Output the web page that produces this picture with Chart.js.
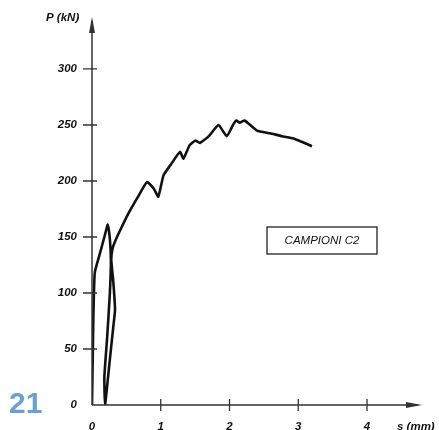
<!DOCTYPE html>
<html>
<head>
<meta charset="utf-8">
<script src="https://cdn.jsdelivr.net/npm/chart.js@4"></script>
<style>
  html, body { margin: 0; padding: 0; background: #fff; }
  #wrap { position: relative; width: 439px; height: 430px; }
</style>
</head>
<body>
<div id="wrap"><canvas id="chart" width="439" height="430"></canvas></div>
<script>
// displacement s (mm) and load P (kN)
const sValues = [0, 0.01, 0.02, 0.04, 0.1, 0.18, 0.23,
  0.26, 0.275, 0.26, 0.22, 0.18, 0.19,
  0.25, 0.31, 0.335, 0.31, 0.28, 0.3, 0.335, 0.41, 0.53, 0.67, 0.8, 0.9, 0.965, 1.04, 1.15, 1.28, 1.33,
  1.42, 1.5, 1.57, 1.7, 1.84, 1.96, 2.06, 2.1, 2.15, 2.22, 2.4, 2.59, 2.76, 2.93, 3.05, 3.2];
const pValues = [0, 40, 80, 118, 132, 150, 161,
  148, 129, 100, 60, 25, 0,
  35, 70, 85, 110, 130, 140, 146, 156, 171, 186, 199, 193, 186, 205, 215, 226, 220,
  232, 236, 234, 240, 250, 240, 251, 254, 252, 254, 245, 242.6, 240, 238, 235, 231];
const xTicks = [0, 1, 2, 3, 4];
const yTicks = [0, 50, 100, 150, 200, 250, 300];
const xTitle = 's (mm)';
const yTitle = 'P (kN)';
const boxLabel = 'CAMPIONI C2';
const pageNo = '21';

const ink = '#111';
const labelFont = 'italic bold 11.5px "Liberation Sans", Arial, sans-serif';

const axesPlugin = {
  id: 'axes',
  afterDraw(chart) {
    const ctx = chart.ctx;
    const xs = chart.scales.x, ys = chart.scales.y;
    const x0 = xs.getPixelForValue(0), y0 = ys.getPixelForValue(0);
    const xEnd = xs.right, yEnd = ys.top;
    ctx.save();
    ctx.strokeStyle = '#333';
    ctx.fillStyle = '#333';
    ctx.lineWidth = 1.5;
    // axis lines
    ctx.beginPath();
    ctx.moveTo(x0, y0); ctx.lineTo(xEnd - 4, y0);
    ctx.moveTo(x0, y0); ctx.lineTo(x0, yEnd + 4);
    ctx.stroke();
    // arrow heads
    ctx.beginPath();
    ctx.moveTo(xEnd, y0); ctx.lineTo(xEnd - 16, y0 - 3); ctx.lineTo(xEnd - 16, y0 + 3); ctx.closePath();
    ctx.fill();
    ctx.beginPath();
    ctx.moveTo(x0, yEnd); ctx.lineTo(x0 - 3, yEnd + 16); ctx.lineTo(x0 + 3, yEnd + 16); ctx.closePath();
    ctx.fill();
    // tick marks crossing the axes
    ctx.lineWidth = 1.3;
    ctx.beginPath();
    xTicks.forEach(v => {
      if (v === 0) return;
      const px = xs.getPixelForValue(v);
      ctx.moveTo(px, y0 - 6); ctx.lineTo(px, y0 + 6);
    });
    yTicks.forEach(v => {
      if (v === 0) return;
      const py = ys.getPixelForValue(v);
      ctx.moveTo(x0 - 9, py); ctx.lineTo(x0 + 5, py);
    });
    ctx.stroke();
    // tick labels
    ctx.fillStyle = ink;
    ctx.font = labelFont;
    ctx.textAlign = 'center';
    ctx.textBaseline = 'middle';
    xTicks.forEach(v => ctx.fillText(String(v), xs.getPixelForValue(v), y0 + 22));
    ctx.textAlign = 'right';
    yTicks.forEach(v => ctx.fillText(String(v), x0 - 15, ys.getPixelForValue(v)));
    // axis titles
    ctx.textAlign = 'left';
    ctx.fillText(xTitle, 397, y0 + 22);
    ctx.fillText(yTitle, 46, 18);
    // legend box
    ctx.lineWidth = 1.3;
    ctx.strokeStyle = '#222';
    ctx.strokeRect(267, 227, 110, 27);
    ctx.font = 'italic 11.5px "Liberation Sans", Arial, sans-serif';
    ctx.textAlign = 'center';
    ctx.fillText(boxLabel, 322, 241);
    // page number
    ctx.fillStyle = '#6b9fd8';
    ctx.font = 'bold 30px "Liberation Sans", Arial, sans-serif';
    ctx.textAlign = 'left';
    ctx.fillText(pageNo, 9, 405);
    ctx.restore();
  }
};

new Chart(document.getElementById('chart'), {
  type: 'scatter',
  data: {
    datasets: [{
      data: sValues.map((s, i) => ({ x: s, y: pValues[i] })),
      showLine: true,
      borderColor: ink,
      borderWidth: 2.6,
      pointRadius: 0,
      tension: 0.15,
      fill: false
    }]
  },
  options: {
    responsive: false,
    animation: false,
    layout: { padding: { left: 92, right: 17, top: 17, bottom: 25 } },
    plugins: { legend: { display: false }, tooltip: { enabled: false } },
    scales: {
      x: { type: 'linear', display: false, min: 0, max: 4.8 },
      y: { type: 'linear', display: false, min: 0, max: 346.4 }
    }
  },
  plugins: [axesPlugin]
});
</script>
</body>
</html>
